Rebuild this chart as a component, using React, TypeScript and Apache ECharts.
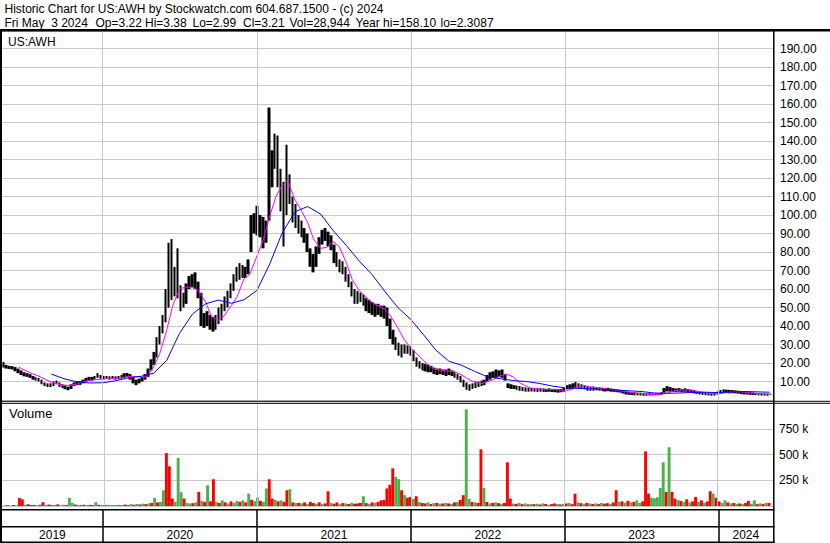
import React, { useEffect, useRef } from 'react';
import * as echarts from 'echarts';

const FONT = "'Liberation Sans', Arial, Helvetica, sans-serif";
const DAY = 86400000;

// ---------- x range / calendar ----------
const axisStart = Date.UTC(2019, 4, 7);
const axisEnd = Date.UTC(2024, 4, 9);
const firstWeek = Date.UTC(2019, 4, 10); // weekly bars, Fridays
const yearLabels = ['2019', '2020', '2021', '2022', '2023', '2024'];
const yearStarts = [2020, 2021, 2022, 2023, 2024].map((y) => Date.UTC(y, 0, 1));

// ---------- weekly price ranges (low / high) ----------
const weeklyLow = [
  17.5, 17, 16.8, 16.5, 15.5, 14.5, 13.5, 12.8, 12.5, 12,
  11, 10.5, 10, 8.5, 7.5, 7, 7, 7.5, 8.5, 7,
  6.5, 5.8, 5.3, 6, 7.5, 8, 8.2, 9, 10, 10.5,
  10.5, 11, 12, 11.5, 11.2, 11.5, 11, 11.3, 11, 11.2,
  11.5, 12, 12.5, 11, 9, 8, 9, 10, 11, 12.5,
  16, 19, 23, 30, 36, 42, 50, 54, 56, 55,
  48, 50, 52, 60, 61, 60, 55, 40, 39, 40,
  38, 37, 38, 41, 43, 48, 50, 55, 59, 64,
  65, 66, 66, 68, 80, 90, 89, 88, 82, 85,
  97, 115, 125, 115, 102, 83, 100, 106, 96, 93,
  90, 88, 85, 80, 72, 69, 72, 79, 84, 86,
  83, 81, 74, 72, 69, 68, 64, 61, 56, 52,
  52, 53, 51, 48, 47, 46, 45, 46, 45, 44,
  40, 33, 30, 27, 24, 23, 25, 25, 24, 21,
  18, 17, 16, 15.5, 15, 15, 14, 13.5, 14, 13.5,
  13, 13.5, 13, 12, 11, 9.5, 7, 5.5, 5, 6,
  6.5, 7, 7.5, 8, 10, 11, 12, 12, 12.5, 12,
  10.5, 6.5, 6, 6, 5.5, 5, 4.8, 4.5, 4.5, 4.6,
  4.5, 4.4, 4.5, 4.4, 4.4, 4.5, 4.3, 4.2, 4, 4.2,
  4.5, 5.8, 6, 6.2, 6.5, 6.3, 6, 5.8, 5, 5,
  5, 5.2, 5, 4.8, 4.6, 4.8, 4.5, 4.4, 4.2, 4,
  3.5, 3, 2.8, 2.7, 2.5, 2.5, 2.4, 2.3, 2.3, 2.4,
  2.4, 2.5, 2.6, 2.8, 4, 4.6, 4.5, 4.4, 4.4, 4.5,
  4.3, 4.5, 4.2, 4, 3.6, 3.2, 3, 2.8, 2.6, 2.5,
  2.3, 2.4, 3, 3.5, 3.8, 3.8, 3.6, 3.7, 3.6, 3.5,
  3.2, 3, 3, 2.8, 2.7, 2.6, 2.5, 2.4, 2.4, 2.3, 2.9,
];
const weeklyHigh = [
  20.6, 19, 18.5, 18.3, 17.8, 17, 16, 15, 14.5, 14,
  13, 12.3, 12, 11, 9.5, 9, 9, 10, 10.5, 9.5,
  8.5, 7.8, 7.2, 8.5, 9.5, 10, 10.2, 11, 12, 12.5,
  12.5, 13, 14.5, 13.5, 13, 13, 12.8, 13, 12.8, 13,
  13.5, 14.5, 14.6, 14, 12.5, 11, 11.5, 12.5, 14, 17,
  22, 26, 34, 40, 46, 60, 85, 87, 72, 82,
  62, 58, 63, 67, 68, 69, 64, 58, 47, 48,
  46, 45, 46, 50, 52, 56, 59, 63, 68, 72,
  74, 73, 72, 76, 100, 101, 105, 100, 99, 97,
  158.1, 135, 144, 143, 125, 118, 138, 122, 110, 106,
  100, 97, 93, 90, 82, 79, 83, 88, 92, 93,
  91, 89, 84, 80, 76, 75, 72, 68, 64, 60,
  59, 58, 57, 55, 54, 53, 52, 52, 51, 51,
  50, 44, 38, 34, 31, 30, 30, 29.5, 29, 27,
  23, 21, 20, 19.5, 19, 18.5, 17.5, 17, 17, 16.5,
  16.5, 17, 16, 15, 14, 13, 11, 9.5, 8.5, 9,
  10, 10, 10.5, 11, 13.5, 15, 15.5, 16.5, 16, 16.5,
  14, 9, 8.5, 8, 7.8, 7.5, 7, 6.8, 6.5, 6.5,
  6.5, 6.3, 6.5, 6.2, 6, 6.3, 6, 6, 5.8, 6,
  6.5, 8, 8.5, 9, 9.8, 9, 8.5, 8, 7.5, 7,
  7.3, 7, 6.8, 6.6, 6.4, 6.6, 6.2, 6, 5.8, 5.5,
  5, 4.6, 4.4, 4.2, 4.2, 4, 4, 3.8, 3.6, 3.7,
  3.6, 3.6, 3.8, 4.2, 6.5, 7.5, 7, 6.5, 6.2, 6.4,
  6, 6.3, 5.8, 5.6, 5.2, 4.6, 4.4, 4.2, 4, 4,
  3.6, 3.8, 4.6, 5.4, 5.8, 5.6, 5.5, 5.4, 5.2, 5,
  4.6, 4.4, 4.3, 4.2, 4, 3.8, 3.6, 3.5, 3.5, 3.4, 3.4,
];

// ---------- weekly volume (thousands of shares) and direction ----------
const weeklyVolumeK = [
  6, 8, 5, 10, 7, 78, 65, 12, 17, 9,
  10, 8, 12, 37, 9, 14, 8, 11, 16, 7,
  12, 9, 79, 30, 14, 10, 8, 12, 9, 11,
  9, 37, 12, 8, 10, 7, 9, 6, 11, 8,
  10, 14, 9, 18, 12, 20, 15, 22, 18, 25,
  30, 79, 35, 40, 153, 514, 385, 72, 40, 466,
  134, 72, 30, 25, 28, 35, 137, 50, 40, 201,
  45, 260, 40, 30, 55, 35, 25, 45, 30, 50,
  40, 55, 35, 120, 60, 45, 82, 50, 40, 170,
  260, 72, 60, 45, 55, 40, 153, 163, 35, 30,
  30, 25, 35, 20, 40, 28, 22, 35, 18, 25,
  143, 30, 22, 35, 18, 28, 25, 20, 30, 22,
  25, 30, 95, 28, 22, 35, 30, 40, 55, 60,
  170, 207, 366, 282, 260, 153, 105, 80, 88, 70,
  95, 40, 30, 25, 35, 20, 28, 30, 22, 25,
  30, 25, 20, 35, 40, 60, 105, 938, 70, 40,
  35, 30, 550, 175, 40, 25, 30, 35, 28, 22,
  30, 424, 72, 25, 20, 30, 18, 25, 15, 20,
  18, 22, 15, 25, 20, 12, 18, 25, 20, 15,
  20, 25, 30, 18, 120, 35, 28, 22, 30, 25,
  20, 25, 18, 30, 22, 28, 20, 35, 153, 40,
  45, 30, 50, 35, 40, 55, 30, 45, 530, 120,
  80, 75, 85, 175, 424, 137, 570, 137, 72, 60,
  50, 40, 65, 35, 45, 88, 40, 55, 30, 45,
  143, 120, 80, 45, 30, 56, 35, 25, 30, 20,
  25, 20, 30, 50, 22, 56, 18, 25, 20, 30, 29,
];
const weeklyVolumeSide = [
  'grgrgrrgrr', 'rgrrgrrgrg', 'grggrgrrgr', 'rgrgrrgrgr', 'grrgrgrgrg',
  'rgrggrrrgg', 'grggrgrgrg', 'rrgrgrgrgg', 'rgrgrggrgg', 'rrgrgrrgrg',
  'rgrgrrgrgr', 'rgrrgrgrgr', 'rrgrgrgrrr', 'rrrggrgrrg', 'rgrrgrgrgr',
  'grgrgrrggr', 'grrgrgrgrg', 'rrrgrgrgrg', 'rgrgrgrrgr', 'grgrrgrgrg',
  'rgrgrrgrrg', 'rgrgrggrrr', 'gggggrgrrg', 'rgrgrrgrgr', 'rgrrggrgrg',
  'rgrrggrgrgr',
].join('').split('');

// ---------- moving averages ----------
// short average (magenta), twice a month from 15 Jun 2019
const maFast = [
  17.8, 16, 14.5, 13, 11.5, 9.6, 8.8, 8, 7.9, 8.6, 9.8, 10.6, 11,
  11.3, 11.6, 11.8, 12, 12.7, 12.8, 12.3, 12.6, 18, 25, 38, 51, 60, 61, 61, 59, 53, 45, 43, 45.5, 51, 56, 65.5, 68,
  78, 86, 100, 110, 116, 118.5, 108, 103, 96, 87, 82, 82.5, 85.5, 83, 74, 65, 59, 56, 52.7, 51, 49, 45, 39, 33,
  28, 25, 21, 18.3, 16.5, 16, 15.6, 15.3, 13.5, 11.6, 9.5, 8.8, 9.8, 11, 13, 14, 12.5, 9.5, 7.5, 6.3, 6, 5.8, 5.7, 5.5,
  5.2, 5.5, 7.2, 7.8, 7.2, 6.7, 6.3, 5.8, 5.3, 4.9, 4.3, 3.8, 3.5, 3.2, 3, 3, 3.8, 4.8, 5.4, 5.5, 5.2, 4.6, 4, 3.4,
  3.3, 3.9, 4.4, 4.5, 4.3, 3.9, 3.6, 3.4, 3.2,
];
// long average (blue), monthly from 1 Sep 2019
const maSlow = [
  14, 11.5, 9.8, 9.2,
  9.3, 10.4, 12, 12.8, 14.5, 21.5, 36, 46.5, 52, 54, 52.3, 54.2,
  59.3, 74, 90, 101.8, 104.6, 100.5, 91.5, 83.5, 75, 67.8, 58.5, 50,
  43.5, 35, 27, 21, 18.8, 15.5, 12.6, 11.5, 10.5, 10, 9, 7.6,
  6.6, 6.3, 6.1, 5.8, 5.4, 5, 4.6, 3.8, 3.6, 3.8, 4.1, 4.2,
  4, 4.4, 4.6, 4.4, 4.2,
];

const weekDates = weeklyLow.map((_, i) => firstWeek + i * 7 * DAY);
function semiMonthly(y: number, m: number, d: number, n: number) {
  const out: number[] = [];
  for (let k = 0; k < n; k++) {
    out.push(Date.UTC(y, m, d));
    if (d === 1) d = 15;
    else {
      d = 1;
      m++;
      if (m > 11) { m = 0; y++; }
    }
  }
  return out;
}
function monthly(y: number, m: number, n: number) {
  const out: number[] = [];
  for (let k = 0; k < n; k++) out.push(Date.UTC(y, m + k, 1));
  return out;
}
const maFastDates = semiMonthly(2019, 5, 15, maFast.length);
const maSlowDates = monthly(2019, 8, maSlow.length);

const HEADER1 = 'Historic Chart for US:AWH by Stockwatch.com 604.687.1500 - (c) 2024';
// second header line: fields and their left edges
const HEADER2_FIELDS = ['Fri May  3 2024', 'Op=3.22', 'Hi=3.38', 'Lo=2.99', 'Cl=3.21', 'Vol=28,944', 'Year hi=158.10', 'lo=2.3087'];
const HEADER2_X = [4.5, 95.5, 145, 192.5, 243, 289.5, 355.5, 440.5];

const GRID_GREY = '#c8c8c8';
const GREEN = '#4cb04c';
const RED = '#ff0000';

function hline(x1: number, x2: number, y: number, w: number) {
  return { type: 'line', silent: true, z: 100, shape: { x1, y1: y, x2, y2: y }, style: { stroke: '#000', lineWidth: w } };
}
function vline(x: number, y1: number, y2: number, w: number) {
  return { type: 'line', silent: true, z: 100, shape: { x1: x, y1, x2: x, y2 }, style: { stroke: '#000', lineWidth: w } };
}
function label(text: string, x: number, y: number, size: number) {
  return {
    type: 'text', silent: true, z: 100, x, y,
    style: { text, fill: '#000', font: `${size}px ${FONT}`, textVerticalAlign: 'middle', verticalAlign: 'middle' },
  };
}

export default function App() {
  const ref = useRef<HTMLDivElement>(null);
  useEffect(() => {
    if (!ref.current) return;
    const chart = echarts.init(ref.current, null, { renderer: 'svg' });
    const timeAxis = (gridIndex: number) => ({
      type: 'time', gridIndex, min: axisStart, max: axisEnd, show: false,
      splitLine: { show: false },
    });
    const yearMarkLine = (color: string) => ({
      silent: true, symbol: ['none', 'none'], label: { show: false },
      lineStyle: { color, width: 1, type: 'solid' },
      emphasis: { disabled: true },
      data: yearStarts.map((t) => ({ xAxis: t })),
    });
    const yearBounds = [axisStart, ...yearStarts, axisEnd];
    const option: any = {
      animation: false,
      backgroundColor: '#fff',
      grid: [
        { left: 2, top: 31, width: 771, height: 369 },
        { left: 2, top: 403, width: 771, height: 103 },
        { left: 2, top: 510, width: 771, height: 32 },
      ],
      xAxis: [timeAxis(0), timeAxis(1), timeAxis(2)],
      yAxis: [
        {
          type: 'value', gridIndex: 0, position: 'right', min: 0, max: 199.5, interval: 10,
          axisLine: { show: false }, axisTick: { show: false },
          axisLabel: {
            formatter: (v: number) => v.toFixed(2), color: '#000', fontSize: 12, fontFamily: FONT,
            margin: 7, align: 'left', showMinLabel: false, showMaxLabel: false,
          },
          splitLine: { lineStyle: { color: GRID_GREY, width: 1 } },
        },
        {
          type: 'value', gridIndex: 1, position: 'right', min: 0, max: 1000000, interval: 250000,
          axisLine: { show: false }, axisTick: { show: false },
          axisLabel: {
            formatter: (v: number) => `${v / 1000} k`, color: '#000', fontSize: 12, fontFamily: FONT,
            margin: 6, align: 'left', showMinLabel: false, showMaxLabel: false,
          },
          splitLine: { lineStyle: { color: GRID_GREY, width: 1 } },
        },
        { type: 'value', gridIndex: 2, min: 0, max: 1, show: false, splitLine: { show: false } },
      ],
      series: [
        {
          type: 'line', xAxisIndex: 0, yAxisIndex: 0, z: 1, silent: true,
          data: [[axisStart, 0]], showSymbol: false, lineStyle: { opacity: 0 },
          markLine: yearMarkLine(GRID_GREY),
        },
        {
          type: 'candlestick', name: 'US:AWH', xAxisIndex: 0, yAxisIndex: 0, z: 3,
          barWidth: 3, encode: { x: 0, y: [1, 2, 3, 4] },
          itemStyle: { color: '#000', color0: '#000', borderColor: '#000', borderColor0: '#000', borderWidth: 0 },
          data: weekDates.map((t, i) => [t, weeklyLow[i], weeklyHigh[i], weeklyLow[i], weeklyHigh[i]]),
        },
        {
          type: 'line', name: 'short average', xAxisIndex: 0, yAxisIndex: 0, z: 4, showSymbol: false,
          lineStyle: { color: '#ff00ff', width: 1 },
          data: maFastDates.map((t, i) => [t, maFast[i]]),
        },
        {
          type: 'line', name: 'long average', xAxisIndex: 0, yAxisIndex: 0, z: 4, showSymbol: false,
          lineStyle: { color: '#0000ff', width: 1 },
          data: maSlowDates.map((t, i) => [t, maSlow[i]]),
        },
        {
          type: 'line', xAxisIndex: 1, yAxisIndex: 1, z: 1, silent: true,
          data: [[axisStart, 0]], showSymbol: false, lineStyle: { opacity: 0 },
          markLine: yearMarkLine(GRID_GREY),
        },
        {
          type: 'bar', name: 'Volume', xAxisIndex: 1, yAxisIndex: 1, z: 3, barWidth: 2.9,
          data: weekDates.map((t, i) => ({
            value: [t, weeklyVolumeK[i] * 1000],
            itemStyle: { color: weeklyVolumeSide[i] === 'g' ? GREEN : RED },
          })),
        },
        {
          type: 'line', xAxisIndex: 2, yAxisIndex: 2, z: 1, silent: true,
          data: [[axisStart, 0]], showSymbol: false, lineStyle: { opacity: 0 },
          markLine: { ...yearMarkLine('#000'), lineStyle: { color: '#000', width: 1.5, type: 'solid' } },
          markArea: {
            silent: true,
            itemStyle: { color: 'rgba(0,0,0,0)' },
            label: { show: true, position: 'insideBottom', distance: 1, color: '#000', fontSize: 12, fontFamily: FONT },
            data: yearLabels.map((name, k) => [{ name, xAxis: yearBounds[k] }, { xAxis: yearBounds[k + 1] }]),
          },
        },
      ],
      graphic: {
        elements: [
          label(HEADER1, 4.5, 8.7, 12),
          ...HEADER2_FIELDS.map((f, k) => label(f, HEADER2_X[k], 22.5, 12)),
          label('US:AWH', 8, 42, 12),
          label('Volume', 9, 413, 13),
          hline(0, 830, 30.25, 2.5),
          hline(0, 830, 401.3, 1),
          hline(0, 830, 403.3, 1),
          hline(0, 774.5, 509.8, 1.5),
          hline(0, 774.5, 526.7, 1.5),
          hline(0, 774.5, 542.2, 1.5),
          vline(1, 29, 543, 2),
          vline(773.8, 29, 543, 1.5),
        ],
      },
    };
    chart.setOption(option);
    return () => chart.dispose();
  }, []);
  return (
    <div
      ref={ref}
      style={{ position: 'absolute', left: 0, top: 0, width: 830, height: 543, background: '#fff', whiteSpace: 'pre' }}
    />
  );
}
